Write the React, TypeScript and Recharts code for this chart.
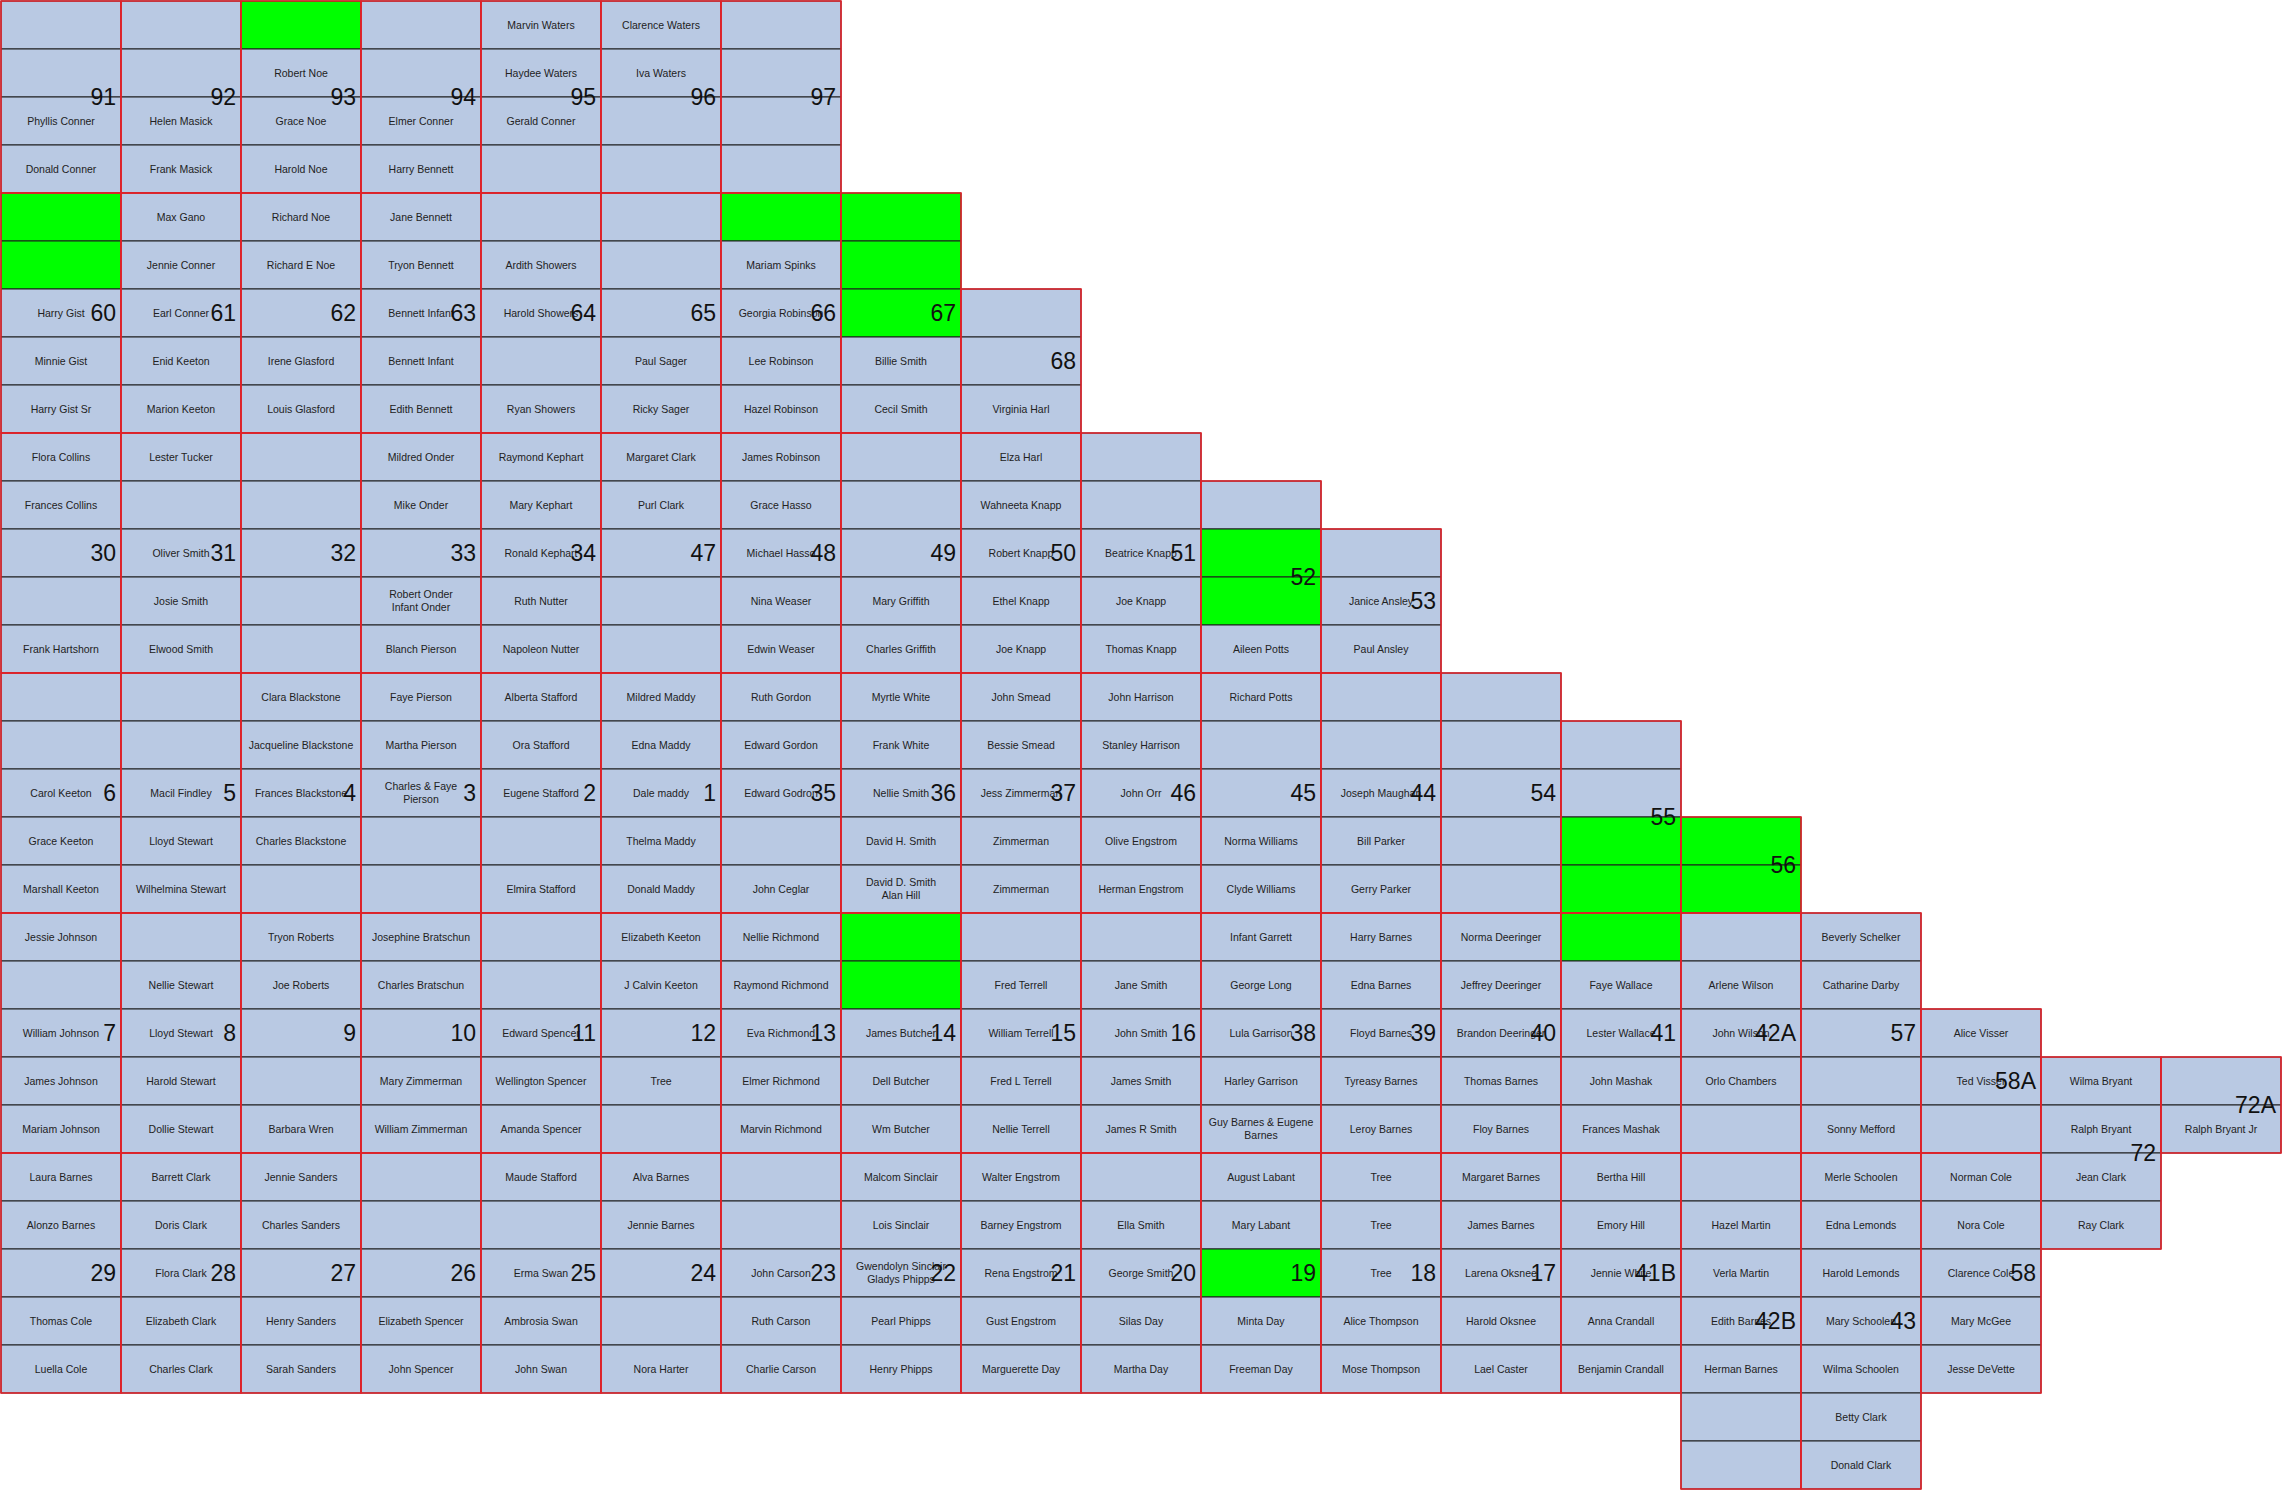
import { ScatterChart, Scatter, XAxis, YAxis, ReferenceArea } from 'recharts'

const WIDTH = 2283
const HEIGHT = 1491
const N_COLS = 19
const N_ROWS = 31

const BLUE = '#b9c9e3'
const GREEN = '#00ff00'
const RED = '#e3222a'
const LINE = '#1c1c1c'
const FONT = '"Liberation Sans", Arial, Helvetica, sans-serif'

// first grid row of every column (columns further right start lower)
const colStart = [0, 0, 0, 0, 0, 0, 0, 4, 6, 9, 10, 11, 14, 15, 17, 19, 21, 22, 22]

// names per column, top to bottom ('' = empty plot)
const col00 = [
  '', '', 'Phyllis Conner', 'Donald Conner', '', '', 'Harry Gist', 'Minnie Gist', 'Harry Gist Sr',
  'Flora Collins', 'Frances Collins', '', '', 'Frank Hartshorn', '', '', 'Carol Keeton', 'Grace Keeton',
  'Marshall Keeton', 'Jessie Johnson', '', 'William Johnson', 'James Johnson', 'Mariam Johnson',
  'Laura Barnes', 'Alonzo Barnes', '', 'Thomas Cole', 'Luella Cole',
]
const col01 = [
  '', '', 'Helen Masick', 'Frank Masick', 'Max Gano', 'Jennie Conner', 'Earl Conner', 'Enid Keeton',
  'Marion Keeton', 'Lester Tucker', '', 'Oliver Smith', 'Josie Smith', 'Elwood Smith', '', '',
  'Macil Findley', 'Lloyd Stewart', 'Wilhelmina Stewart', '', 'Nellie Stewart', 'Lloyd Stewart',
  'Harold Stewart', 'Dollie Stewart', 'Barrett Clark', 'Doris Clark', 'Flora Clark', 'Elizabeth Clark',
  'Charles Clark',
]
const col02 = [
  '', 'Robert Noe', 'Grace Noe', 'Harold Noe', 'Richard Noe', 'Richard E Noe', '', 'Irene Glasford',
  'Louis Glasford', '', '', '', '', '', 'Clara Blackstone', 'Jacqueline Blackstone', 'Frances Blackstone',
  'Charles Blackstone', '', 'Tryon Roberts', 'Joe Roberts', '', '', 'Barbara Wren', 'Jennie Sanders',
  'Charles Sanders', '', 'Henry Sanders', 'Sarah Sanders',
]
const col03 = [
  '', '', 'Elmer Conner', 'Harry Bennett', 'Jane Bennett', 'Tryon Bennett', 'Bennett Infant',
  'Bennett Infant', 'Edith Bennett', 'Mildred Onder', 'Mike Onder', '', 'Robert Onder\nInfant Onder',
  'Blanch Pierson', 'Faye Pierson', 'Martha Pierson', 'Charles & Faye\nPierson', '', '',
  'Josephine Bratschun', 'Charles Bratschun', '', 'Mary Zimmerman', 'William Zimmerman', '', '', '',
  'Elizabeth Spencer', 'John Spencer',
]
const col04 = [
  'Marvin Waters', 'Haydee Waters', 'Gerald Conner', '', '', 'Ardith Showers', 'Harold Showers', '',
  'Ryan Showers', 'Raymond Kephart', 'Mary Kephart', 'Ronald Kephart', 'Ruth Nutter', 'Napoleon Nutter',
  'Alberta Stafford', 'Ora Stafford', 'Eugene Stafford', '', 'Elmira Stafford', '', '', 'Edward Spencer',
  'Wellington Spencer', 'Amanda Spencer', 'Maude Stafford', '', 'Erma Swan', 'Ambrosia Swan', 'John Swan',
]
const col05 = [
  'Clarence Waters', 'Iva Waters', '', '', '', '', '', 'Paul Sager', 'Ricky Sager', 'Margaret Clark',
  'Purl Clark', '', '', '', 'Mildred Maddy', 'Edna Maddy', 'Dale maddy', 'Thelma Maddy', 'Donald Maddy',
  'Elizabeth Keeton', 'J Calvin Keeton', '', 'Tree', '', 'Alva Barnes', 'Jennie Barnes', '', '',
  'Nora Harter',
]
const col06 = [
  '', '', '', '', '', 'Mariam Spinks', 'Georgia Robinson', 'Lee Robinson', 'Hazel Robinson',
  'James Robinson', 'Grace Hasso', 'Michael Hasso', 'Nina Weaser', 'Edwin Weaser', 'Ruth Gordon',
  'Edward Gordon', 'Edward Godron', '', 'John Ceglar', 'Nellie Richmond', 'Raymond Richmond',
  'Eva Richmond', 'Elmer Richmond', 'Marvin Richmond', '', '', 'John Carson', 'Ruth Carson',
  'Charlie Carson',
]
const col07 = [
  '', '', '', 'Billie Smith', 'Cecil Smith', '', '', '', 'Mary Griffith', 'Charles Griffith',
  'Myrtle White', 'Frank White', 'Nellie Smith', 'David H. Smith', 'David D. Smith\nAlan Hill', '', '',
  'James Butcher', 'Dell Butcher', 'Wm Butcher', 'Malcom Sinclair', 'Lois Sinclair',
  'Gwendolyn Sinclair\nGladys Phipps', 'Pearl Phipps', 'Henry Phipps',
]
const col08 = [
  '', '', 'Virginia Harl', 'Elza Harl', 'Wahneeta Knapp', 'Robert Knapp', 'Ethel Knapp', 'Joe Knapp',
  'John Smead', 'Bessie Smead', 'Jess Zimmerman', 'Zimmerman', 'Zimmerman', '', 'Fred Terrell',
  'William Terrell', 'Fred L Terrell', 'Nellie Terrell', 'Walter Engstrom', 'Barney Engstrom',
  'Rena Engstrom', 'Gust Engstrom', 'Marguerette Day',
]
const col09 = [
  '', '', 'Beatrice Knapp', 'Joe Knapp', 'Thomas Knapp', 'John Harrison', 'Stanley Harrison', 'John Orr',
  'Olive Engstrom', 'Herman Engstrom', '', 'Jane Smith', 'John Smith', 'James Smith', 'James R Smith', '',
  'Ella Smith', 'George Smith', 'Silas Day', 'Martha Day',
]
const col10 = [
  '', '', '', 'Aileen Potts', 'Richard Potts', '', '', 'Norma Williams', 'Clyde Williams',
  'Infant Garrett', 'George Long', 'Lula Garrison', 'Harley Garrison', 'Guy Barnes & Eugene\nBarnes',
  'August Labant', 'Mary Labant', '', 'Minta Day', 'Freeman Day',
]
const col11 = [
  '', 'Janice Ansley', 'Paul Ansley', '', '', 'Joseph Maughan', 'Bill Parker', 'Gerry Parker',
  'Harry Barnes', 'Edna Barnes', 'Floyd Barnes', 'Tyreasy Barnes', 'Leroy Barnes', 'Tree', 'Tree', 'Tree',
  'Alice Thompson', 'Mose Thompson',
]
const col12 = [
  '', '', '', '', '', 'Norma Deeringer', 'Jeffrey Deeringer', 'Brandon Deeringer', 'Thomas Barnes',
  'Floy Barnes', 'Margaret Barnes', 'James Barnes', 'Larena Oksnee', 'Harold Oksnee', 'Lael Caster',
]
const col13 = [
  '', '', '', '', '', 'Faye Wallace', 'Lester Wallace', 'John Mashak', 'Frances Mashak', 'Bertha Hill',
  'Emory Hill', 'Jennie White', 'Anna Crandall', 'Benjamin Crandall',
]
const col14 = [
  '', '', '', 'Arlene Wilson', 'John Wilson', 'Orlo Chambers', '', '', 'Hazel Martin', 'Verla Martin',
  'Edith Barnes', 'Herman Barnes', '', '',
]
const col15 = [
  'Beverly Schelker', 'Catharine Darby', '', '', 'Sonny Mefford', 'Merle Schoolen', 'Edna Lemonds',
  'Harold Lemonds', 'Mary Schoolen', 'Wilma Schoolen', 'Betty Clark', 'Donald Clark',
]
const col16 = ['Alice Visser', 'Ted Visser', '', 'Norman Cole', 'Nora Cole', 'Clarence Cole', 'Mary McGee', 'Jesse DeVette']
const col17 = ['Wilma Bryant', 'Ralph Bryant', 'Jean Clark', 'Ray Clark']
const col18 = ['', 'Ralph Bryant Jr']

const columns = [
  col00, col01, col02, col03, col04, col05, col06, col07, col08, col09,
  col10, col11, col12, col13, col14, col15, col16, col17, col18,
]

// [column, row] of the green cells
const greenCells: [number, number][] = [
  [2, 0], [0, 4], [0, 5], [6, 4], [7, 4], [7, 5], [7, 6], [10, 11], [10, 12],
  [13, 17], [13, 18], [13, 19], [14, 17], [14, 18], [7, 19], [7, 20], [10, 26],
]

// [plot number, column, first row, row after last]
const plots: [string, number, number, number][] = [
  ['91', 0, 0, 4], ['60', 0, 4, 9], ['30', 0, 9, 14], ['6', 0, 14, 19], ['7', 0, 19, 24], ['29', 0, 24, 29],
  ['92', 1, 0, 4], ['61', 1, 4, 9], ['31', 1, 9, 14], ['5', 1, 14, 19], ['8', 1, 19, 24], ['28', 1, 24, 29],
  ['93', 2, 0, 4], ['62', 2, 4, 9], ['32', 2, 9, 14], ['4', 2, 14, 19], ['9', 2, 19, 24], ['27', 2, 24, 29],
  ['94', 3, 0, 4], ['63', 3, 4, 9], ['33', 3, 9, 14], ['3', 3, 14, 19], ['10', 3, 19, 24], ['26', 3, 24, 29],
  ['95', 4, 0, 4], ['64', 4, 4, 9], ['34', 4, 9, 14], ['2', 4, 14, 19], ['11', 4, 19, 24], ['25', 4, 24, 29],
  ['96', 5, 0, 4], ['65', 5, 4, 9], ['47', 5, 9, 14], ['1', 5, 14, 19], ['12', 5, 19, 24], ['24', 5, 24, 29],
  ['97', 6, 0, 4], ['66', 6, 4, 9], ['48', 6, 9, 14], ['35', 6, 14, 19], ['13', 6, 19, 24], ['23', 6, 24, 29],
  ['67', 7, 4, 9], ['49', 7, 9, 14], ['36', 7, 14, 19], ['14', 7, 19, 24], ['22', 7, 24, 29],
  ['68', 8, 6, 9], ['50', 8, 9, 14], ['37', 8, 14, 19], ['15', 8, 19, 24], ['21', 8, 24, 29],
  ['51', 9, 9, 14], ['46', 9, 14, 19], ['16', 9, 19, 24], ['20', 9, 24, 29],
  ['52', 10, 10, 14], ['45', 10, 14, 19], ['38', 10, 19, 24], ['19', 10, 24, 29],
  ['53', 11, 11, 14], ['44', 11, 14, 19], ['39', 11, 19, 24], ['18', 11, 24, 29],
  ['54', 12, 14, 19], ['40', 12, 19, 24], ['17', 12, 24, 29],
  ['55', 13, 15, 19], ['41', 13, 19, 24], ['41B', 13, 24, 29],
  ['56', 14, 17, 19], ['42A', 14, 19, 24], ['42B', 14, 24, 31],
  ['57', 15, 19, 24], ['43', 15, 24, 31],
  ['58A', 16, 21, 24], ['58', 16, 24, 29],
  ['72', 17, 22, 26],
  ['72A', 18, 22, 24],
]

const isGreen = (c: number, r: number) => greenCells.some(([gc, gr]) => gc === c && gr === r)

const cells = columns.flatMap((names, c) =>
  names.map((who, i) => {
    const r = colStart[c] + i
    return { c, r, who, green: isGreen(c, r) }
  }),
)

// scatter points: cell centres for names, plot right edge / middle for numbers
const nameData = cells.filter(d => d.who).map(d => ({ x: d.c + 0.5, y: d.r + 0.5, who: d.who }))
const numberData = plots.map(([tag, c, top, bottom]) => ({ x: c + 1, y: (top + bottom) / 2, tag }))

function NameShape(props: any) {
  const { cx, cy, payload } = props
  const lines = String(payload.who).split('\n')
  const lh = 13
  const y0 = cy - ((lines.length - 1) * lh) / 2 + 3.8
  return (
    <text textAnchor="middle" fontSize={10.5} fill="#222" fontFamily={FONT}>
      {lines.map((l, i) => (
        <tspan key={i} x={cx} y={y0 + i * lh}>{l}</tspan>
      ))}
    </text>
  )
}

function NumberShape(props: any) {
  const { cx, cy, payload } = props
  return (
    <text x={cx - 5} y={cy + 8.2} textAnchor="end" fontSize={23} fill="#111" fontFamily={FONT}>
      {payload.tag}
    </text>
  )
}

export default function App() {
  return (
    <div style={{ position: 'absolute', left: 0, top: 0, width: WIDTH, height: HEIGHT, background: '#fff' }}>
      <ScatterChart width={WIDTH} height={HEIGHT} margin={{ top: 1, right: 2, bottom: 2, left: 1 }}>
        <XAxis type="number" dataKey="x" domain={[0, N_COLS]} hide allowDataOverflow />
        <YAxis type="number" dataKey="y" domain={[0, N_ROWS]} reversed hide allowDataOverflow />
        {cells.map(d => (
          <ReferenceArea
            key={`cell-${d.c}-${d.r}`}
            x1={d.c}
            x2={d.c + 1}
            y1={d.r}
            y2={d.r + 1}
            fill={d.green ? GREEN : BLUE}
            fillOpacity={1}
            stroke={LINE}
            strokeWidth={1}
            ifOverflow="visible"
          />
        ))}
        {plots.map(([tag, c, top, bottom]) => (
          <ReferenceArea
            key={`plot-${tag}`}
            x1={c}
            x2={c + 1}
            y1={top}
            y2={bottom}
            fill="none"
            fillOpacity={0}
            stroke={RED}
            strokeWidth={1.6}
            ifOverflow="visible"
          />
        ))}
        <Scatter data={nameData} shape={NameShape} isAnimationActive={false} />
        <Scatter data={numberData} shape={NumberShape} isAnimationActive={false} />
      </ScatterChart>
    </div>
  )
}
